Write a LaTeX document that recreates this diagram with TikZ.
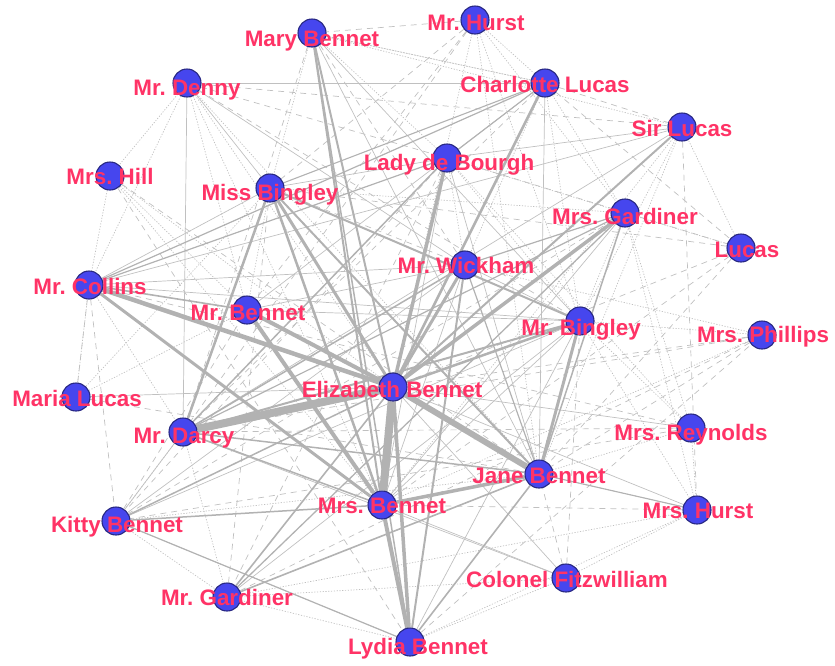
\documentclass[tikz,border=0pt]{standalone}
\usepackage{fontspec}
\setmainfont{Liberation Sans}
\frenchspacing
\definecolor{edgec}{RGB}{192,192,192}
\definecolor{edgek}{RGB}{178,178,178}
\definecolor{labc}{RGB}{255,51,102}
\definecolor{nodef}{RGB}{70,70,238}
\definecolor{noded}{RGB}{40,40,130}
\pgfdeclarelayer{edges}
\pgfsetlayers{edges,main}
\tikzset{
  vtx/.style={circle, fill=nodef, draw=noded, line width=1.1pt, minimum size=28pt, inner sep=0pt},
  lab/.style={text=labc, font=\fontsize{22.4}{24}\selectfont\bfseries\frenchspacing, anchor=base, inner sep=0pt},
  esolid/.style={draw=edgec, line width=0.7pt},
  edash/.style={draw=edgec, line width=0.7pt, dash pattern=on 6pt off 5pt},
  edot/.style={draw=edgec, line width=0.7pt, dash pattern=on 1.2pt off 1.6pt},
  ethick/.style={draw=edgek, line width=#1},
}
\begin{document}
\begin{tikzpicture}[x=1pt,y=-1pt]
\useasboundingbox (0,0) rectangle (835,665);
% vertices
\node[vtx] (hurst) at (475,20) {};
\node[vtx] (mary) at (312,33) {};
\node[vtx] (denny) at (187,83) {};
\node[vtx] (charl) at (545,83) {};
\node[vtx] (sirl) at (682,127) {};
\node[vtx] (lady) at (447,158) {};
\node[vtx] (hill) at (110,176) {};
\node[vtx] (missb) at (270,188) {};
\node[vtx] (mrsg) at (625,213) {};
\node[vtx] (lucas) at (741,248) {};
\node[vtx] (wick) at (465,265) {};
\node[vtx] (coll) at (89,285) {};
\node[vtx] (mrben) at (247,310) {};
\node[vtx] (bing) at (580,321) {};
\node[vtx] (phil) at (762,335) {};
\node[vtx] (eliz) at (393,387) {};
\node[vtx] (maria) at (76,397) {};
\node[vtx] (darcy) at (183,432) {};
\node[vtx] (reyn) at (691,428) {};
\node[vtx] (jane) at (539,474) {};
\node[vtx] (mrsb) at (382,505) {};
\node[vtx] (mhurst) at (697,510) {};
\node[vtx] (kitty) at (116,521) {};
\node[vtx] (col) at (566,578) {};
\node[vtx] (mrg) at (227,597) {};
\node[vtx] (lydia) at (410,642) {};
% labels
\node[lab] (l-hurst) at (476,30) {Mr. Hurst};
\node[lab] (l-mary) at (312,46) {Mary Bennet};
\node[lab] (l-denny) at (187,95) {Mr. Denny};
\node[lab] (l-charl) at (545,92) {Charlotte Lucas};
\node[lab] (l-sirl) at (682,136) {Sir Lucas};
\node[lab] (l-lady) at (449,170) {Lady de Bourgh};
\node[lab] (l-hill) at (110,184) {Mrs. Hill};
\node[lab] (l-missb) at (270,200) {Miss Bingley};
\node[lab] (l-mrsg) at (625,224) {Mrs. Gardiner};
\node[lab] (l-lucas) at (747,257) {Lucas};
\node[lab] (l-wick) at (466,273) {Mr. Wickham};
\node[lab] (l-coll) at (90,294) {Mr. Collins};
\node[lab] (l-mrben) at (248,320) {Mr. Bennet};
\node[lab] (l-bing) at (581,335) {Mr. Bingley};
\node[lab] (l-phil) at (763,342) {Mrs. Phillips};
\node[lab] (l-eliz) at (392,397) {Elizabeth Bennet};
\node[lab] (l-maria) at (77,406) {Maria Lucas};
\node[lab] (l-darcy) at (184,443) {Mr. Darcy};
\node[lab] (l-reyn) at (691,440) {Mrs. Reynolds};
\node[lab] (l-jane) at (539,483) {Jane Bennet};
\node[lab] (l-mrsb) at (382,513) {Mrs. Bennet};
\node[lab] (l-mhurst) at (698,518) {Mrs. Hurst};
\node[lab] (l-kitty) at (117,532) {Kitty Bennet};
\node[lab] (l-col) at (567,587) {Colonel Fitzwilliam};
\node[lab] (l-mrg) at (227,605) {Mr. Gardiner};
\node[lab] (l-lydia) at (418,654) {Lydia Bennet};
\begin{pgfonlayer}{edges}
% dotted edges
\foreach \a/\b in {hurst/charl, hurst/bing, hurst/eliz, hurst/mrsg, mary/charl, mary/sirl, mary/lady,
  denny/hill, denny/coll, denny/mrben, denny/mrsb, denny/eliz, hill/mrben, hill/eliz, hill/coll,
  coll/darcy, maria/missb, maria/mrben, kitty/mrg, kitty/lydia, mrg/lydia, mrg/col, lydia/mhurst,
  lydia/col, col/mhurst, jane/mhurst, reyn/bing, reyn/mrsg, reyn/mhurst, mhurst/bing, mhurst/mrsg,
  lucas/mrsg, lucas/sirl, sirl/bing, sirl/jane, charl/mrsg, charl/wick, lady/bing, lady/reyn,
  missb/jane, missb/mrsg, wick/phil, bing/phil, darcy/kitty, mary/missb, denny/jane, hill/mrsb,
  charl/bing, lady/wick, mrsg/bing, kitty/jane, maria/coll, darcy/mrg, missb/mrben, charl/mary,
  hurst/jane, reyn/jane, phil/mrsb, sirl/mrsb, lady/mrsg, mrg/mhurst}
  \draw[edot] (\a) -- (\b);
% dashed edges
\foreach \a/\b in {hurst/missb, hurst/darcy, mary/darcy, denny/sirl, denny/lady, hill/jane,
  coll/maria, coll/kitty, missb/wick, missb/lucas, lady/lucas, charl/lucas, charl/sirl,
  sirl/mhurst, lucas/jane, lucas/mrsb, phil/eliz, phil/jane, phil/darcy, reyn/kitty,
  mhurst/mrsb, col/jane, mrg/missb, kitty/mrben, lydia/phil, lady/mrg, lady/kitty,
  hurst/mrben, mrsg/kitty, hurst/mary, denny/bing, hill/lydia, coll/reyn, maria/jane,
  darcy/reyn, mrg/phil, col/bing, lucas/eliz, mary/wick, charl/darcy}
  \draw[edash] (\a) -- (\b);
% thin solid edges
\foreach \a/\b in {denny/charl, denny/darcy, denny/missb, denny/wick, coll/wick, coll/missb,
  maria/eliz, kitty/bing, kitty/darcy, mary/jane, mary/bing, sirl/lady, charl/mrben,
  lady/missb, lady/mrsb, lady/jane, wick/mrsb, wick/kitty, bing/mrsb, bing/lydia, bing/mrben,
  mrsg/mrsb, reyn/eliz, col/mrsb, mrg/bing, coll/bing, sirl/darcy, charl/jane, wick/mrben,
  mhurst/eliz, col/eliz, col/darcy, bing/wick, coll/sirl}
  \draw[esolid] (\a) -- (\b);
% weighted edges
\foreach \a/\b/\w in {coll/charl/1.2, coll/lady/1.2, coll/mrben/1.6, lady/charl/1.1,
  mrg/mrsg/1.3, mrg/jane/1.6, mrg/eliz/1.6, mrsg/jane/1.5, mrsg/wick/1.2, mrsg/darcy/1.2,
  jane/wick/1.2, jane/lydia/1.6, jane/darcy/1.5, jane/missb/2, lydia/kitty/1.2,
  lydia/mary/1.5, lydia/wick/2, darcy/lady/1.5, darcy/wick/1.5, darcy/mrsb/1.5,
  darcy/bing/2, darcy/missb/2.5, missb/bing/2, missb/charl/1.1, mhurst/jane/1.1,
  mrsb/kitty/1.5, mrsb/mary/2, mrsb/missb/2.5, mrsb/coll/3, jane/bing/3,
  eliz/kitty/1.5, eliz/mary/2, eliz/sirl/2, eliz/charl/2.5, eliz/bing/2.5,
  eliz/wick/3, eliz/missb/3, eliz/mrsg/3.5, eliz/lady/3.5, eliz/lydia/3.5,
  mrsb/mrben/4, mrsb/jane/3.5, mrsb/lydia/4, eliz/mrben/4, eliz/coll/4.5,
  eliz/jane/6, eliz/mrsb/8, eliz/darcy/8}
  \draw[ethick=\w pt] (\a) -- (\b);
\end{pgfonlayer}
\end{tikzpicture}
\end{document}
